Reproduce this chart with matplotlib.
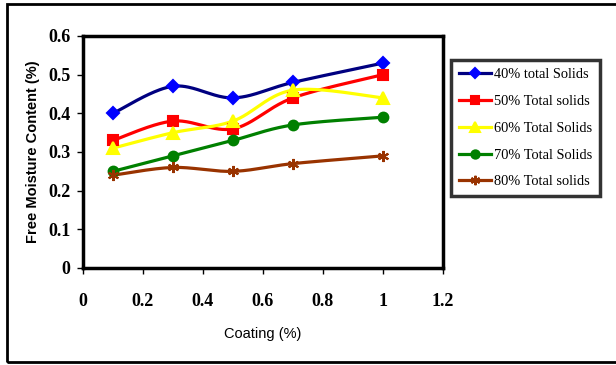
import numpy as np
import matplotlib
matplotlib.use("Agg")
import matplotlib.pyplot as plt
from matplotlib.patches import Rectangle

# Free moisture content vs coating level for several total-solids levels
coating = [0.1, 0.3, 0.5, 0.7, 1.0]
solids_40 = [0.40, 0.47, 0.44, 0.48, 0.53]
solids_50 = [0.33, 0.38, 0.36, 0.44, 0.50]
solids_60 = [0.31, 0.35, 0.38, 0.46, 0.44]
solids_70 = [0.25, 0.29, 0.33, 0.37, 0.39]
solids_80 = [0.24, 0.26, 0.25, 0.27, 0.29]

series_labels = ["40% total Solids", "50% Total solids", "60% Total Solids",
                 "70% Total Solids", "80% Total solids"]
x_ticks = [0, 0.2, 0.4, 0.6, 0.8, 1.0, 1.2]
x_tick_labels = ["0", "0.2", "0.4", "0.6", "0.8", "1", "1.2"]
y_ticks = [0, 0.1, 0.2, 0.3, 0.4, 0.5, 0.6]
y_tick_labels = ["0", "0.1", "0.2", "0.3", "0.4", "0.5", "0.6"]

XMAX, YMAX = 1.2, 0.6
AX_W_PX, AX_H_PX = 360.0, 232.0


def smooth_curve(xs, ys, n=40):
    """Bezier smoothing through the points, computed in screen-like units."""
    px = np.asarray(xs, float) / XMAX * AX_W_PX
    py = np.asarray(ys, float) / YMAX * AX_H_PX
    pts = np.column_stack([px, py])
    m = len(pts)
    out = [pts[0]]
    t = np.linspace(0, 1, n)[1:, None]
    for i in range(m - 1):
        p0 = pts[i]
        p3 = pts[i + 1]
        prev = pts[i - 1] if i > 0 else pts[i]
        nxt = pts[i + 2] if i + 2 < m else pts[i + 1]
        c1 = p0 + (p3 - prev) / 6.0
        c2 = p3 - (nxt - p0) / 6.0
        seg = ((1 - t) ** 3) * p0 + 3 * ((1 - t) ** 2) * t * c1 \
            + 3 * (1 - t) * t ** 2 * c2 + t ** 3 * p3
        out.extend(seg)
    out = np.array(out)
    return out[:, 0] / AX_W_PX * XMAX, out[:, 1] / AX_H_PX * YMAX


fig = plt.figure(figsize=(6.16, 3.65), dpi=100)
W, H = 616.0, 365.0

# outer chart frame
fig.patches.append(Rectangle((7 / W, 1 - 362 / H), 2.0, (362 - 4) / H,
                             transform=fig.transFigure, fill=False,
                             edgecolor="black", linewidth=2.0, zorder=0))

ax = fig.add_axes([83 / W, 1 - 268 / H, 360 / W, 232 / H])

styles = [
    dict(color="#000080", marker="D", mfc="#0000FF", mec="#0000FF", ms=6.5),
    dict(color="#FF0000", marker="s", mfc="#FF0000", mec="#FF0000", ms=7),
    dict(color="#FFFF00", marker="^", mfc="#FFFF00", mec="#FFFF00", ms=8),
    dict(color="#008000", marker="o", mfc="#008000", mec="#008000", ms=7),
    dict(color="#993300", marker=(6, 2, 0), mfc="#993300", mec="#993300", ms=8),
]
all_series = [solids_40, solids_50, solids_60, solids_70, solids_80]

handles = []
for vals, st, lab in zip(all_series, styles, series_labels):
    sx, sy = smooth_curve(coating, vals)
    ax.plot(sx, sy, color=st["color"], lw=2.3, solid_capstyle="round",
            zorder=2)
    ax.plot(coating, vals, linestyle="none", marker=st["marker"],
            markerfacecolor=st["mfc"], markeredgecolor=st["mec"],
            markersize=st["ms"], markeredgewidth=1.5, zorder=3)
    h, = ax.plot([], [], color=st["color"], lw=2.3, marker=st["marker"],
                 markerfacecolor=st["mfc"], markeredgecolor=st["mec"],
                 markersize=st["ms"] * 0.85, markeredgewidth=1.5, label=lab)
    handles.append(h)

ax.set_xlim(0, XMAX)
ax.set_ylim(0, YMAX)
ax.set_xticks(x_ticks)
ax.set_xticklabels(x_tick_labels)
ax.set_yticks(y_ticks)
ax.set_yticklabels(y_tick_labels)

for lbl in ax.get_xticklabels() + ax.get_yticklabels():
    lbl.set_fontfamily("Liberation Serif")
    lbl.set_fontweight("bold")
    lbl.set_fontsize(13)

ax.tick_params(axis="both", direction="out", length=4, width=1.0,
               color="black")
ax.tick_params(axis="x", pad=14)
ax.tick_params(axis="y", pad=5)

for sp in ax.spines.values():
    sp.set_linewidth(2.5)
    sp.set_color("black")

ax.set_ylabel("Free Moisture Content (%)", family="Liberation Sans",
              weight="bold", size=10.5, labelpad=6)
ax.set_xlabel("Coating (%)", family="Liberation Sans", size=10.5,
              labelpad=12)

leg = fig.legend(handles=handles, loc="upper left",
                 bbox_to_anchor=(451 / W, 1 - 60 / H),
                 prop=dict(family="Liberation Serif", size=10.4),
                 numpoints=1, handlelength=2.2, handletextpad=0.2,
                 labelspacing=0.95, borderpad=0.55, borderaxespad=0,
                 frameon=True, fancybox=False)
leg.get_frame().set_edgecolor("black")
leg.get_frame().set_linewidth(2.5)

fig.savefig("out.png", dpi=100)
